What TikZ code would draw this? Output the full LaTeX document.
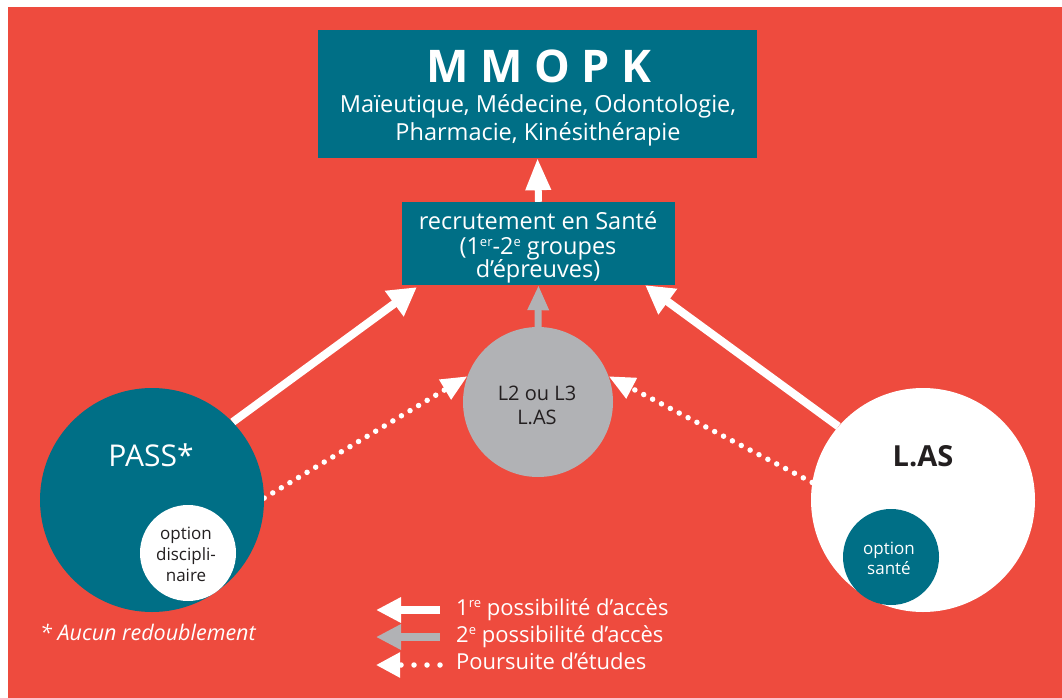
\documentclass[tikz,border=0pt]{standalone}
\usepackage{fontspec}
\setmainfont{Open Sans}
\usetikzlibrary{arrows.meta,calc}
\definecolor{bgred}{HTML}{EE4B3E}
\definecolor{tealc}{HTML}{006F86}
\definecolor{grayc}{HTML}{B1B2B5}
\definecolor{darktxt}{HTML}{231F20}
\newcommand{\supp}[1]{\raisebox{0.62ex}{\fontsize{13}{13}\selectfont #1}}
\pgfdeclarelayer{back}
\pgfdeclarelayer{conn}
\pgfsetlayers{back,conn,main}
\tikzset{
  boxT/.style={rectangle, fill=tealc, inner sep=0pt},
  disc/.style={circle, inner sep=0pt},
  fs/.style={font=\fontsize{#1}{#1}\selectfont},
  fsb/.style={font=\fontsize{#1}{#1}\selectfont\bfseries},
  fsi/.style={font=\fontsize{#1}{#1}\selectfont\itshape},
  wArrow/.style={draw=white, line width=8pt, -{Triangle[length=28pt,width=30pt]}},
  vArrow/.style={draw=white, line width=7pt, -{Triangle[length=32pt,width=24pt]}},
  gArrow/.style={draw=grayc, line width=7pt, -{Triangle[length=25pt,width=20pt]}},
  dArrow/.style={draw=white, line width=5.5pt, line cap=round, dash pattern=on 0pt off 10pt, -{Triangle[length=26pt,width=22pt]}},
  lwArrow/.style={draw=white, line width=8pt, -{Triangle[length=25pt,width=24pt]}},
  lgArrow/.style={draw=grayc, line width=8pt, -{Triangle[length=25pt,width=24pt]}},
  ldArrow/.style={draw=white, line width=5.5pt, line cap=round, dash pattern=on 0pt off 13pt, -{Triangle[length=24pt,width=24pt]}},
}
\begin{document}
\begin{tikzpicture}[x=1pt,y=-1pt]
\useasboundingbox (0,0) rectangle (1062,698);
\begin{pgfonlayer}{back}
\fill[white] (0,0) rectangle (1062,698);
\fill[bgred] (8,7) rectangle (1062,698);
\end{pgfonlayer}

% boxes
\node[boxT, minimum width=439pt, minimum height=128pt] (mmopk) at (537.5,94) {};
\node[boxT, minimum width=273pt, minimum height=83pt] (recr) at (538.5,243.5) {};

% circles
\node[disc, fill=grayc, minimum size=150pt] (mid) at (538,402) {};
\node[disc, fill=tealc, minimum size=224pt] (pass) at (152,500) {};
\node[disc, fill=white, minimum size=96pt] (optd) at (188,553) {};
\node[disc, fill=white, minimum size=224pt] (las) at (923,500) {};
\node[disc, fill=tealc, minimum size=96pt] (opts) at (891,557) {};

% texts
\node[anchor=base, text=white, fsb=45] (t1) at (539,83) {M M O P K};
\node[anchor=base, text=white, fs=23.5] (t2) at (538,113) {Maïeutique, Médecine, Odontologie,};
\node[anchor=base, text=white, fs=23.5] (t3) at (538,140) {Pharmacie, Kinésithérapie};
\node[anchor=base, text=white, fs=23.5] (r1) at (538,229) {recrutement en Santé};
\node[anchor=base, text=white, fs=23.5] (r2) at (538,254) {(1\supp{er}-2\supp{e} groupes};
\node[anchor=base, text=white, fs=23.5] (r3) at (538,277) {d’épreuves)};
\node[anchor=base, text=white, fs=30] (ptxt) at (151,466) {PASS*};
\node[anchor=base, text=darktxt, fsb=29] (ltxt) at (923,466) {L.AS};
\node[anchor=base, text=darktxt, fs=20] (m1) at (537,400) {L2 ou L3};
\node[anchor=base, text=darktxt, fs=20] (m2) at (537,424) {L.AS};
\node[anchor=base, text=darktxt, fs=17] (o1) at (186,539) {option};
\node[anchor=base, text=darktxt, fs=17] (o2) at (186,560) {discipli-};
\node[anchor=base, text=darktxt, fs=17] (o3) at (186,581) {naire};
\node[anchor=base, text=white, fs=17] (s1) at (889,554) {option};
\node[anchor=base, text=white, fs=17] (s2) at (889,574) {santé};
\node[anchor=base west, text=white, fsi=21.5, inner sep=0pt] (note) at (40,640) {* Aucun redoublement};
\node[anchor=base west, text=white, fs=22, inner sep=0pt] (lg1) at (456,615) {1\supp{re} possibilité d’accès};
\node[anchor=base west, text=white, fs=22, inner sep=0pt] (lg2) at (456,642) {2\supp{e} possibilité d’accès};
\node[anchor=base west, text=white, fs=22, inner sep=0pt] (lg3) at (456,669) {Poursuite d’études};

% legend coordinates
\coordinate (a1s) at (440,610); \coordinate (a1e) at (376,610);
\coordinate (a2s) at (440,637); \coordinate (a2e) at (376,637);
\coordinate (a3s) at (440,665); \coordinate (a3e) at (376,665);

\begin{pgfonlayer}{conn}
\draw[vArrow] (recr.north) -- (mmopk.south);
\draw[gArrow] (mid.north) -- (recr.south);
\draw[wArrow] (pass.44) -- ($(recr.south west)+(15,2)$);
\draw[wArrow] (las.139) -- ($(recr.south east)+(-30,0)$);
\draw[dArrow] (pass.1) -- (mid.160);
\draw[dArrow] (las.171) -- (mid.20);
\draw[lwArrow] (a1s) -- (a1e);
\draw[lgArrow] (a2s) -- (a2e);
\draw[ldArrow] (a3s) -- (a3e);
\end{pgfonlayer}
\end{tikzpicture}
\end{document}
